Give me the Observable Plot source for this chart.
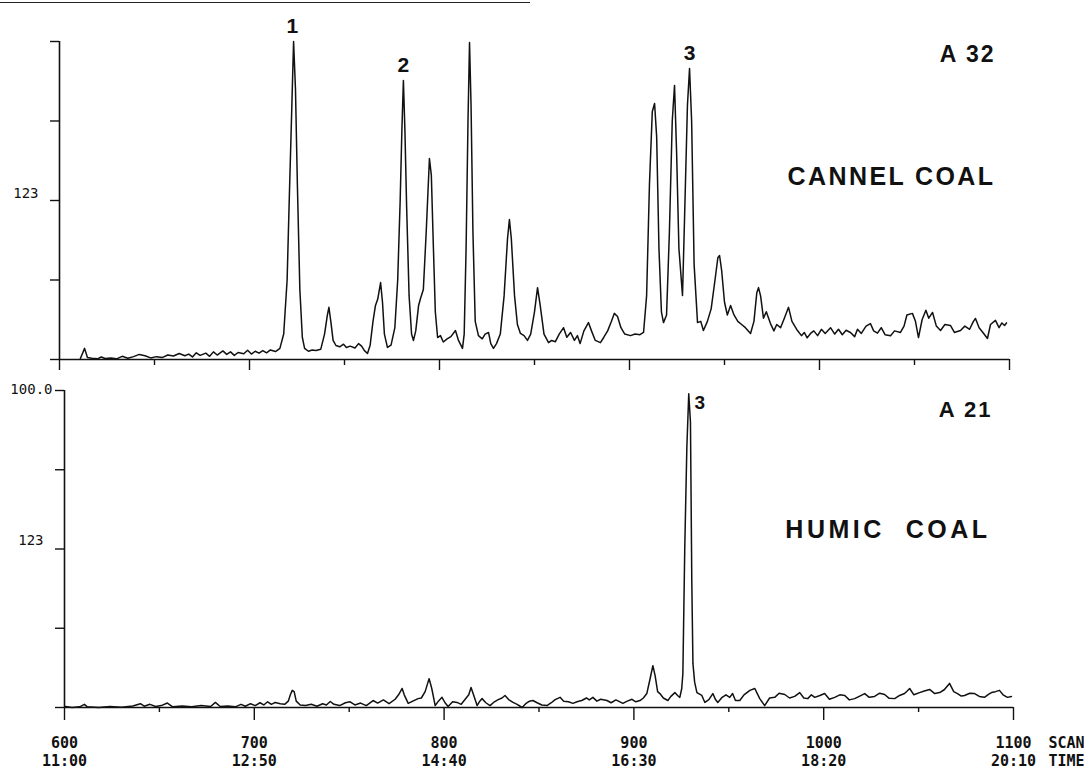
<!DOCTYPE html>
<html><head><meta charset="utf-8">
<script src="https://cdn.jsdelivr.net/npm/d3@7"></script>
<script src="https://cdn.jsdelivr.net/npm/@observablehq/plot@0.6"></script>
<style>
body{margin:0;background:#fff;}
#chart{position:relative;width:1084px;height:769px;overflow:hidden;background:#fff}
#chart svg{display:block}
#edge{position:absolute;left:0;top:2px;width:530px;height:0;border-top:1.6px solid #222}
</style></head><body><div id="chart"><div id="edge"></div></div>
<script>
// ---- data: [scan number, relative intensity %] ----
const cannelPoints = [
[611.0,0.3],[613.2,3.5],[614.7,0.6],[617,0.4],[620,0.2],[622,0.8],[624,0.3],[627,0.5],[630,0.2],[633,1.0],
[636,0.4],[639,0.9],[642,1.6],[645,1.2],[648,0.5],[651,0.9],[654,0.6],[657,1.4],[660,1.1],[663,1.9],
[666,1.2],[668,1.7],[670,0.8],[672,2.1],[674,1.3],[677,2.0],[679,1.0],[681,2.4],[683,1.4],[686,2.7],
[688,1.6],[690,2.4],[692,1.3],[694,2.2],[697,1.8],[699,2.9],[701,1.7],[703,2.6],[705,2.0],[707,2.8],
[709,2.1],[711,3.0],[713.7,2.5],[716,3.5],[718,8],[719.8,25],[721,52],[722.3,80],[723.2,100],[724.2,85],
[725.2,55],[726.5,22],[727.8,7],[729,3.5],[731,2.6],[733,3.0],[735,2.8],[737.5,3.2],[739.5,8],[741,14],
[741.8,16.4],[742.8,12],[744,6],[745.5,4.4],[747.5,4.0],[749.5,4.8],[751,3.8],[753,4.2],[755.5,3.6],[757.4,5.0],
[759,4.2],[760.5,2.8],[762.1,1.9],[763.5,4.5],[765,12],[766.3,17],[767.5,19],[769,24.2],[770,18],[771,8],
[772.6,3.8],[774.5,4.5],[776.5,10],[778,25],[779.3,50],[780.2,72],[781,87.7],[781.8,72],[782.7,48],[784,20],
[785.3,8],[786.3,6],[787.5,9],[789,17],[790,19.2],[791.5,22],[793,40],[794.7,63.2],[795.7,58],[796.8,35],
[797.8,15],[799,6.9],[800.5,7.5],[802,5.5],[804,6.5],[806,7.2],[808.4,9.1],[810,6],[812.1,3.5],[813,8],
[814,35],[815,75],[815.8,99.7],[816.6,80],[817.6,40],[818.8,12],[820.5,7.5],[822.5,6.5],[824,8],[825.8,8.5],
[827,5],[828.4,3.5],[830,5],[832,8],[834,20],[835.8,38],[836.8,44],[837.8,38],[839.5,20],[841,11],
[842.6,8.2],[844.5,7.5],[846.3,6],[848,8],[850,15],[851.6,22.6],[853,17],[855,8],[857.4,5.3],[859,6],
[861,5.6],[863,8],[865.3,10],[867,7],[869,8.5],[871,6],[872.6,7.5],[874,5],[876,9],[878.4,11.6],
[880,9],[882,6],[884.7,5.3],[886.5,7],[888.5,9],[890.5,12],[892,14.5],[893.7,13.5],[895.5,10],[897.5,8],
[900.5,7.5],[903,8],[905.5,7.8],[907.4,8.5],[909,20],[910.5,55],[912,78],[913.2,80.5],[914.3,70],[915.5,35],
[916.8,15],[917.9,11.6],[919.5,14],[921,40],[922.5,75],[923.7,86.2],[924.8,65],[926,35],[927.9,20.1],[929,45],
[930.5,80],[931.6,91.5],[932.7,75],[934,30],[935.8,11.6],[937.5,12],[938.9,9.1],[941,12],[943,16],[945,25],
[946.5,32],[947.4,32.7],[948.5,28],[950,18],[951.5,14],[953.2,17],[955,14],[957,12],[959,11],[961,10],
[963.7,8.2],[965.5,12],[967,21],[967.9,22.6],[969,20],[970.5,13],[972,15],[974.2,11.3],[976,9],[977.5,11],
[979.5,10],[981.5,13],[983.7,16.4],[985.5,12],[988.4,9.1],[990.5,7.5],[992,8.5],[993.5,6.8],[995.3,8.2],[997,9],
[999,7.5],[1001,9.5],[1003,8.2],[1005.8,10],[1008,8],[1010,9.5],[1012,7.8],[1014,9.2],[1016.3,8.5],[1018.5,7.2],
[1020,9.5],[1022,8.2],[1024.5,10.5],[1026.8,11.3],[1028.5,9],[1030.5,8.3],[1032.5,10],[1034.5,7.8],[1037.4,7.5],[1039.5,9],
[1042.6,8.5],[1044.5,10.5],[1046,14],[1048.9,14.5],[1050.5,12],[1052.1,6.9],[1054,12.5],[1056,15.5],[1057.5,13],[1059.5,14.8],
[1061.5,10.5],[1063.7,9.1],[1066,11],[1068.9,10.7],[1071,8.5],[1074.2,9.1],[1076.5,10.5],[1079,9.5],[1081,12],[1082.1,12.9],
[1084,10],[1086,8.5],[1088.4,6.6],[1090,11],[1092.6,12.3],[1094.5,10],[1096,11.5],[1097.4,10.7],[1098.4,11.5]
];
const humicPoints = [
[600.5,0.3],[604,0.0],[608,0.2],[610.5,1.0],[612,0.2],[618,0.0],[624,0.3],[630,0.1],[636,0.5],[640,1.2],
[642,0.4],[645,1.0],[648,0.3],[651,0.6],[654.2,1.4],[657,0.2],[662,0.5],[667,0.2],[672,0.6],[677,0.3],
[679.5,1.6],[682,0.3],[686,0.5],[690,0.2],[693,1.0],[695.3,0.4],[698,1.2],[700.5,0.6],[703,1.5],[705,0.8],
[707,1.8],[709,1.0],[711,1.6],[713.7,1.2],[716,1.0],[717.9,2.0],[719,4.0],[720,5.4],[721,5.0],[722.1,2.0],
[724.2,0.8],[727,0.6],[730,1.0],[733,0.4],[736,1.2],[738,0.8],[740,1.9],[742,1.0],[745,0.6],[748,1.5],
[750.5,1.8],[753,0.8],[756,1.4],[759,0.6],[762.6,2.2],[765,1.4],[768,2.4],[771,1.2],[774.2,2.6],[776,4],
[777.9,6],[779,4],[781.1,1.3],[783.5,2.0],[786.3,2.8],[788,3],[790,5],[792.1,9.1],[793.5,6],[795.3,0.6],
[797,2.0],[798.9,3.2],[800.5,1.5],[802.1,0.3],[804.5,1.8],[806.8,1.6],[809,1.0],[811,2.5],[813,4],[814.2,6.3],
[815.5,4],[817.4,0.6],[818.8,2.0],[820,2.8],[822,1.5],[824.2,0.6],[826.5,1.8],[828.5,2.5],[830.5,3.0],[832.1,3.8],
[834,2.5],[836.3,1.6],[838.5,1.0],[841.1,0.0],[843,1.2],[845,2.0],[846.8,2.2],[849,1.5],[851.5,0.8],[854.2,0.6],
[856.5,1.5],[858.5,2.5],[861.1,3.2],[863,2.0],[865.5,1.8],[867.9,1.3],[870,1.8],[872.5,2.2],[875,3.0],[876.5,2.4],
[878.4,3.2],[880.5,2.0],[882.5,2.6],[885.8,2.2],[888,1.5],[890.5,2.4],[894.2,1.3],[896.5,2.0],[899,2.6],[901,1.8],
[903.2,2.2],[905,3.0],[906.8,4.4],[908.5,9],[910,13.2],[911.2,10],[912.5,5],[913.7,4.4],[915.5,3.0],[917.9,2.2],
[919.5,3.5],[921.6,4.7],[923,3.8],[924.2,3.2],[925.2,6],[925.8,10.7],[926.8,50.5],[927.9,82],[928.9,99],[929.8,90],
[930.5,40],[931.1,13.9],[932,8],[933.2,4.7],[935.8,3.8],[937.4,1.6],[939.5,2.5],[941.6,4.4],[943,2.5],[944.2,1.6],
[946.5,3.2],[948.5,4.0],[950.5,3.2],[952,4.4],[953.5,2.2],[955.8,2.2],[958,4.0],[961.1,5.4],[963.7,6.0],[966.3,2.8],
[968.9,0.6],[971.5,3.0],[974.2,3.2],[976.5,4.5],[979.5,4.1],[982,3.0],[984.7,3.5],[987.4,4.7],[989.5,3.0],[991.6,2.8],
[993.5,4.0],[995.3,3.2],[998,3.8],[1000.5,4.4],[1003,2.6],[1005.8,3.2],[1008.5,4.0],[1011.1,3.8],[1013.5,2.4],[1016.3,2.8],
[1019,3.6],[1021.6,4.4],[1024,3.2],[1026.8,3.5],[1029.5,4.5],[1032.1,4.1],[1034.5,2.9],[1037.4,2.8],[1040,3.8],[1042.6,4.4],
[1044,5.2],[1045.3,6.0],[1047.5,4.0],[1050.5,4.7],[1053,5.2],[1055.8,5.7],[1058.5,4.4],[1061.1,4.7],[1063.5,5.6],[1066.3,7.6],
[1068.5,5.0],[1070.5,4.4],[1072.5,3.6],[1074.2,3.8],[1077,4.5],[1079.5,4.4],[1082,3.5],[1084.7,3.2],[1087,4.2],[1088.4,4.7],
[1090.5,5.0],[1092.6,5.4],[1094.5,4.0],[1096.8,3.2],[1098.9,3.5]
];
const scanTicks = [600, 700, 800, 900, 1000, 1100];
const minorTicks = [650, 750, 850, 950, 1050];
const timeLabels = ["11:00", "12:50", "14:40", "16:30", "18:20", "20:10"];
const yTicks = [0, 25, 50, 75, 100];
const cannelPeaks = [{scan: 722.6, v: 100, t: "1"}, {scan: 781, v: 87.7, t: "2"}, {scan: 931.6, v: 91.5, t: "3"}];
const humicPeaks = [{scan: 934.7, v: 99, t: "3"}];
const cannelTitle = ["A 32", "CANNEL COAL"];
const humicTitle = ["A 21", "HUMIC\u00A0\u00A0COAL"];

const toRows = pts => pts.map(([scan, intensity]) => ({scan, intensity}));
const cannel = toRows(cannelPoints);
const humic = toRows(humicPoints);

const ink = "#111";
const bold = {fontFamily: "Liberation Sans, Arial, sans-serif", fontWeight: "bold", fill: ink};

const topPlot = Plot.plot({
  width: 1084, height: 380,
  marginLeft: 59, marginRight: 75, marginTop: 41, marginBottom: 21,
  x: {domain: [600, 1100], label: null}, y: {domain: [0, 100], label: null},
  style: {fontFamily: "DejaVu Sans Mono, monospace", fontSize: "14px", color: ink, background: "white"},
  marks: [
    Plot.axisY({ticks: yTicks, tickSize: 9, tickFormat: () => "", label: null, strokeWidth: 1.4}),
    Plot.axisX({ticks: scanTicks, tickSize: 11, tickFormat: () => "", label: null, strokeWidth: 1.4}),
    Plot.axisX({ticks: minorTicks, tickSize: 6, tickFormat: () => "", label: null, strokeWidth: 1.4}),
    Plot.ruleY([0], {stroke: ink, strokeWidth: 1.6}),
    Plot.ruleX([600], {stroke: ink, strokeWidth: 1.6}),
    Plot.text([{v: 50, t: "123"}], {y: "v", text: "t", frameAnchor: "left", textAnchor: "end", dx: -21, dy: -7, fill: ink}),
    Plot.line(cannel, {x: "scan", y: "intensity", stroke: ink, strokeWidth: 1.5}),
    Plot.text(cannelPeaks, {x: "scan", y: "v", text: "t", lineAnchor: "bottom", dy: -9, fontSize: 21, ...bold}),
    Plot.text([cannelTitle[0]], {frameAnchor: "top-right", lineAnchor: "bottom", dx: -14, dy: 20, fontSize: 23, ...bold}),
    Plot.text([cannelTitle[1]], {frameAnchor: "top-right", lineAnchor: "bottom", dx: -14, dy: 143, fontSize: 25, ...bold})
  ]
});

const bottomPlot = Plot.plot({
  width: 1084, height: 389,
  marginLeft: 64, marginRight: 71, marginTop: 10, marginBottom: 62,
  x: {domain: [600, 1100], label: null}, y: {domain: [0, 100], label: null},
  style: {fontFamily: "DejaVu Sans Mono, monospace", fontSize: "14px", color: ink, background: "white"},
  marks: [
    Plot.axisY({ticks: yTicks, tickSize: 9, tickFormat: () => "", label: null, strokeWidth: 1.4}),
    Plot.axisX({ticks: minorTicks, tickSize: 5, tickFormat: () => "", label: null, strokeWidth: 1.4}),
    Plot.axisX({ticks: scanTicks, tickSize: 13, tickPadding: 15, strokeWidth: 1.4, label: null,
      tickFormat: d => d + "\n" + timeLabels[scanTicks.indexOf(d)],
      fontSize: 15, fontWeight: "bold", lineHeight: 1.2}),
    Plot.text([{scan: 1100, t: "SCAN\nTIME"}], {x: "scan", text: "t", frameAnchor: "bottom", textAnchor: "start", lineAnchor: "top",
      dx: 35, dy: 28, fontSize: 15, fontWeight: "bold", lineHeight: 1.2, fill: ink}),
    Plot.ruleY([0], {stroke: ink, strokeWidth: 1.6}),
    Plot.ruleX([600], {stroke: ink, strokeWidth: 1.6}),
    Plot.text([{v: 100, t: "100.0"}], {y: "v", text: "t", frameAnchor: "left", textAnchor: "end", dx: -12, dy: -1, fill: ink}),
    Plot.text([{v: 50, t: "123"}], {y: "v", text: "t", frameAnchor: "left", textAnchor: "end", dx: -21, dy: -8, fill: ink}),
    Plot.line(humic, {x: "scan", y: "intensity", stroke: ink, strokeWidth: 1.5}),
    Plot.text(humicPeaks, {x: "scan", y: "v", text: "t", lineAnchor: "top", dy: 2, fontSize: 19, ...bold}),
    Plot.text([humicTitle[0]], {frameAnchor: "top-right", lineAnchor: "bottom", dx: -21, dy: 26, fontSize: 22, ...bold}),
    Plot.text([humicTitle[1]], {frameAnchor: "top-right", lineAnchor: "bottom", dx: -23, dy: 147, fontSize: 25, ...bold})
  ]
});

const chart = document.getElementById("chart");
chart.appendChild(topPlot);
chart.appendChild(bottomPlot);

// letter spacing for the bold headings
const spacing = {"A 32": 2, "CANNEL COAL": 2.4, "A 21": 2, "HUMIC\u00A0\u00A0COAL": 3.5};
[topPlot, bottomPlot].forEach(svg => {
  d3.select(svg).selectAll("text").each(function() {
    const s = spacing[this.textContent];
    if (s) this.setAttribute("letter-spacing", s + "px");
  });
});
</script></body></html>
